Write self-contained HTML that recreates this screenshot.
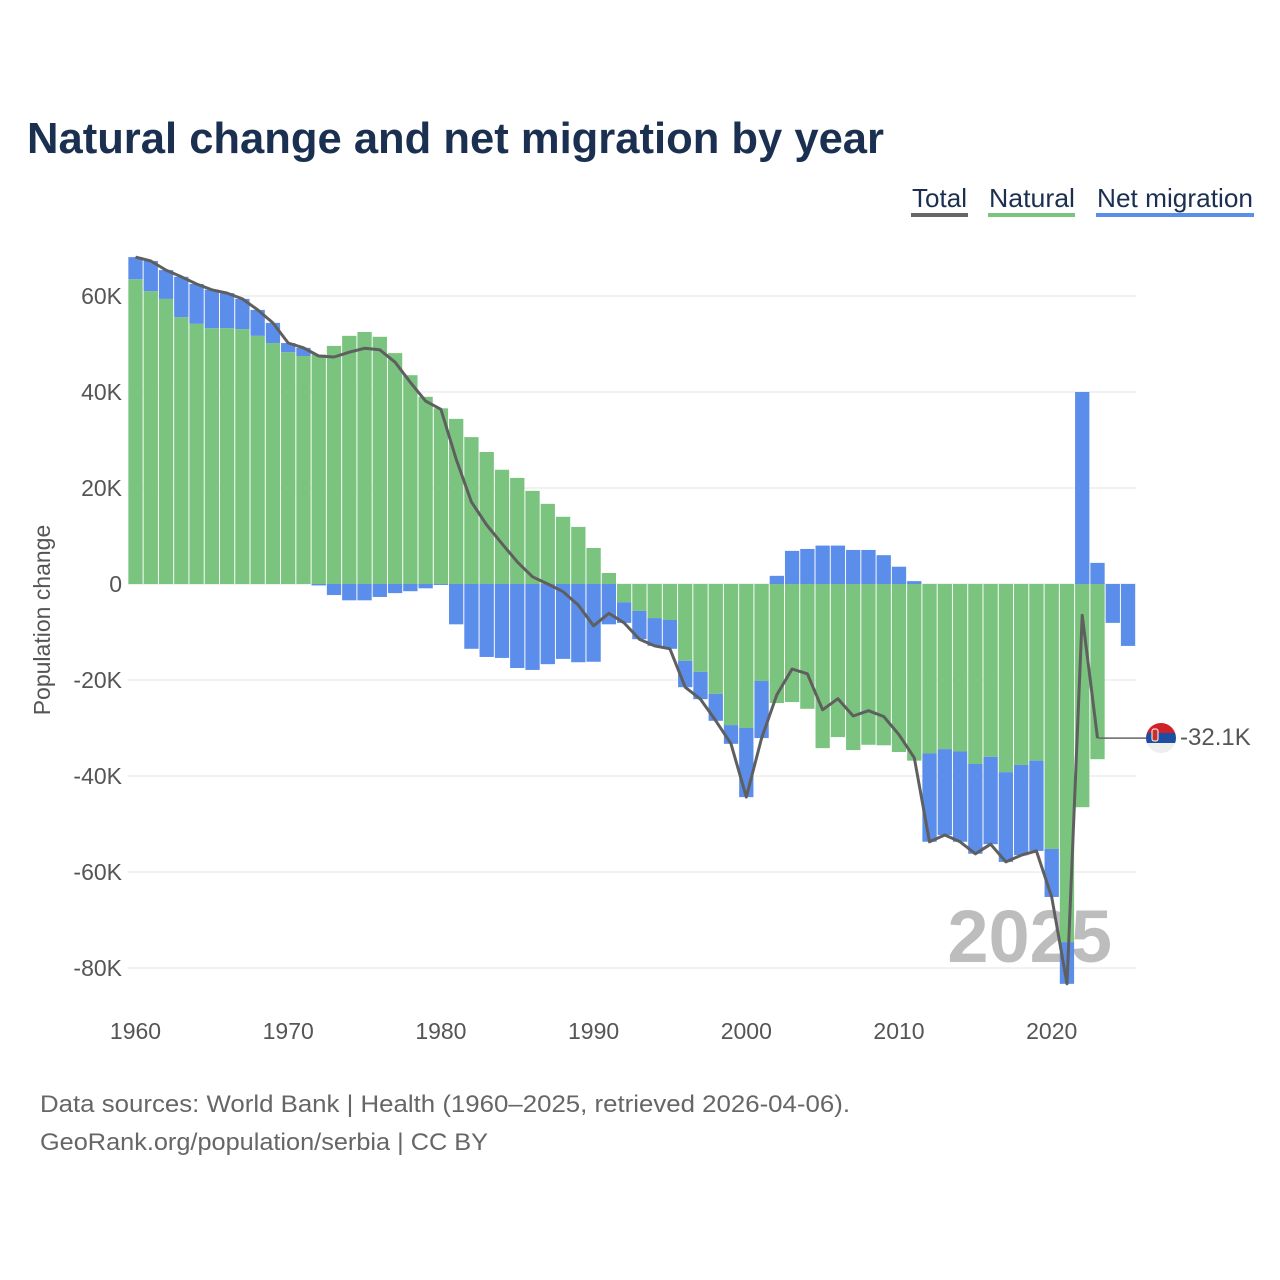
<!DOCTYPE html>
<html><head><meta charset="utf-8"><style>
html,body{margin:0;padding:0;background:#fff;width:1280px;height:1280px;overflow:hidden}
svg{display:block;font-family:"Liberation Sans",sans-serif}
</style></head><body>
<svg id="chart" width="1280" height="1280" viewBox="0 0 1280 1280" xmlns="http://www.w3.org/2000/svg">
<text x="27" y="153" font-size="44" font-weight="bold" fill="#1b3050" textLength="857" lengthAdjust="spacingAndGlyphs">Natural change and net migration by year</text>
<g font-size="26" fill="#1b3050">
<g><text x="912" y="207" textLength="55" lengthAdjust="spacingAndGlyphs">Total</text><rect x="911" y="213" width="57" height="4" fill="#666"/></g>
<g><text x="989" y="207" textLength="86" lengthAdjust="spacingAndGlyphs">Natural</text><rect x="988" y="213" width="87" height="4" fill="#7bc47f"/></g>
<g><text x="1097" y="207" textLength="156" lengthAdjust="spacingAndGlyphs">Net migration</text><rect x="1096" y="213" width="158" height="4" fill="#5b8dea"/></g>
</g>
<g id="grid"></g>
<g id="yticks"></g>
<g id="xticks"></g>
<text x="1112" y="962" text-anchor="end" font-size="74" font-weight="bold" fill="#bdbdbd">2025</text>
<g id="bars"></g>
<g id="lineg"></g>
<text transform="translate(50,620) rotate(-90)" text-anchor="middle" font-size="23" fill="#555">Population change</text>
<g>
<line id="leader" x1="0" y1="0" x2="1147" y2="0" stroke="#666" stroke-width="1.5"/>
<g id="flag">
<clipPath id="fc"><circle cx="1161" cy="738" r="15"/></clipPath>
<g clip-path="url(#fc)">
<rect x="1146" y="723" width="30" height="10" fill="#d0202a"/>
<rect x="1146" y="733" width="30" height="10" fill="#1c4fa3"/>
<rect x="1146" y="743" width="30" height="10" fill="#eee"/>
<rect x="1152" y="729" width="6" height="12" rx="2" fill="#c8302c" stroke="#fff" stroke-width="1"/>
</g></g>
<text id="endlabel" x="1180" y="745" font-size="24" fill="#555">-32.1K</text>
</g>
<g font-size="24" fill="#666">
<text x="40" y="1112" textLength="810" lengthAdjust="spacingAndGlyphs">Data sources: World Bank | Health (1960–2025, retrieved 2026-04-06).</text>
<text x="40" y="1150" textLength="448" lengthAdjust="spacingAndGlyphs">GeoRank.org/population/serbia | CC BY</text>
</g>
</svg>
<script>
const years = [];
for (let y = 1960; y <= 2025; y++) years.push(y);
const natural = [63.5,61.0,59.4,55.6,54.2,53.3,53.3,53.1,51.7,50.2,
48.3,47.5,47.8,49.6,51.7,52.5,51.5,48.1,43.5,39.0,
36.6,34.4,30.6,27.5,23.8,22.1,19.4,16.7,14.0,11.9,
7.5,2.3,-3.8,-5.6,-7.1,-7.5,-16.0,-18.3,-22.9,-29.4,
-30.0,-20.2,-24.8,-24.6,-26.0,-34.2,-31.9,-34.6,-33.5,-33.6,
-35.0,-36.8,-35.3,-34.4,-34.9,-37.5,-36.0,-39.2,-37.7,-36.8,
-55.2,-74.6,-46.5,-36.5,null,null];
const migration = [4.6,6.3,6.0,8.4,8.3,8.0,7.3,6.3,5.4,4.2,
1.9,1.7,-0.3,-2.3,-3.4,-3.4,-2.7,-1.9,-1.5,-0.9,
-0.2,-8.4,-13.5,-15.2,-15.4,-17.5,-17.9,-16.7,-15.6,-16.3,
-16.2,-8.4,-4.3,-5.9,-5.8,-6.0,-5.5,-5.7,-5.6,-3.9,
-14.4,-11.9,1.7,6.9,7.3,8.0,8.0,7.1,7.1,6.0,
3.6,0.6,-18.4,-17.9,-18.8,-18.7,-18.2,-18.7,-18.8,-18.8,
-10.0,-8.7,40.0,4.4,-8.1,-12.9];
const yTicks = [60,40,20,0,-20,-40,-60,-80];
const yTickLabels = ["60K","40K","20K","0","-20K","-40K","-60K","-80K"];
const xTicks = [1960,1970,1980,1990,2000,2010,2020];

const NS = "http://www.w3.org/2000/svg";
function X(yr){ return 135.5 + (yr - 1960) * 15.27; }
function Y(v){ return 584 - v * 4.8; }
function mk(tag, attrs, parent){ const e = document.createElementNS(NS, tag); for (const k in attrs) e.setAttribute(k, attrs[k]); parent.appendChild(e); return e; }

const grid = document.getElementById('grid'), yt = document.getElementById('yticks'), xt = document.getElementById('xticks');
yTicks.forEach((v, i) => {
  const l = mk('line', {x1:128, x2:1136, y1:Y(v), y2:Y(v), stroke:'#e6e6e6', 'stroke-width':1}, grid);
  
  
  const t = mk('text', {x:122, y:Y(v)+8, 'text-anchor':'end', 'font-size':23, fill:'#555'}, yt);
  t.textContent = yTickLabels[i];
  
  
});
xTicks.forEach(yr => {
  const t = mk('text', {x:X(yr), y:1039, 'text-anchor':'middle', 'font-size':23, fill:'#555'}, xt);
  t.textContent = yr;
  
  
});

const bars = document.getElementById('bars');
const W = 14.3;
years.forEach((yr, i) => {
  let pos = 0, neg = 0;
  [[natural[i], '#7bc47f', 'bar-natural'], [migration[i], '#5b8dea', 'bar-migration']].forEach(([v, c, nm]) => {
    if (v === null || v === undefined) return;
    let y0, y1;
    if (v >= 0) { y0 = pos; y1 = pos + v; pos = y1; } else { y0 = neg; y1 = neg + v; neg = y1; }
    const r = mk('rect', {x:X(yr)-W/2, y:Math.min(Y(y0), Y(y1)), width:W, height:Math.abs(Y(y1)-Y(y0)), fill:c}, bars);
    
    
  });
});

const pts = [];
let lastX = 0, lastY = 0;
years.forEach((yr, i) => {
  if (natural[i] === null) return;
  const t = natural[i] + migration[i];
  lastX = X(yr); lastY = Y(t);
  pts.push(lastX.toFixed(1) + ',' + lastY.toFixed(1));
});
const line = mk('polyline', {points:pts.join(' '), fill:'none', stroke:'#5f5f5f', 'stroke-width':3, 'stroke-linejoin':'round'}, document.getElementById('lineg'));


const ld = document.getElementById('leader');
ld.setAttribute('x1', lastX); ld.setAttribute('y1', lastY); ld.setAttribute('y2', lastY);
</script>
</body></html>
